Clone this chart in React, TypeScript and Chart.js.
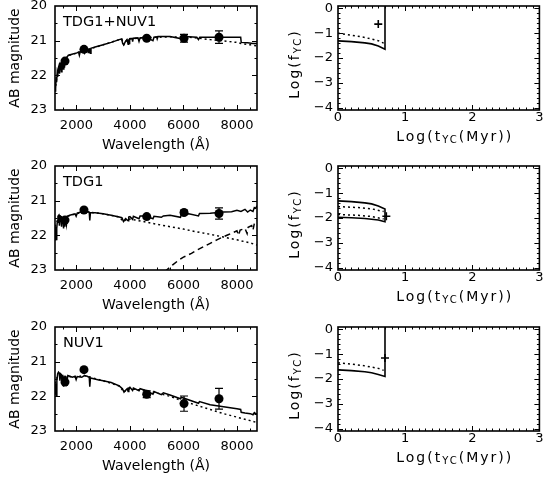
import React, { useEffect, useRef } from 'react';
import { Chart, registerables } from 'chart.js';

Chart.register(...registerables);

const FONT = '"DejaVu Sans", sans-serif';

// ---------------- DATA ----------------
// SED panels: [wavelength (Å), AB magnitude]
const sedA_model: number[][] = [[1200,22.45],[1215,22.2],[1230,22.38],[1245,22.05],[1260,22.2],[1280,21.95],[1300,22.05],[1320,21.8],[1350,21.72],[1370,21.95],[1390,21.66],[1420,21.62],[1440,21.9],[1460,21.6],[1490,21.57],[1510,21.82],[1530,21.55],[1555,21.78],[1575,21.52],[1600,21.5],[1625,21.7],[1650,21.47],[1700,21.42],[1800,21.4],[1900,21.38],[2000,21.36],[2080,21.33],[2110,21.42],[2140,21.32],[2250,21.3],[2300,21.36],[2330,21.28],[2420,21.26],[2440,21.34],[2460,21.25],[2500,21.24],[2520,21.36],[2545,21.22],[2700,21.18],[3000,21.12],[3300,21.05],[3600,20.97],[3690,20.95],[3730,21.08],[3770,21.12],[3830,21.03],[3890,20.97],[3934,21.1],[3950,20.96],[3968,21.08],[3990,20.94],[4080,20.93],[4102,21.03],[4125,20.93],[4300,20.92],[4340,21.02],[4380,20.92],[4600,20.9],[4861,21.0],[4900,20.9],[5000,20.89],[5020,20.95],[5050,20.88],[5500,20.88],[5890,20.94],[5920,20.88],[6200,20.89],[6500,20.9],[6563,20.97],[6610,20.9],[7000,20.9],[7500,20.9],[8000,20.9],[8140,20.9],[8160,21.05],[8400,21.06],[8600,21.08],[8750,21.08]];
const sedA_young: number[][] = [[1200,22.45],[1250,22.15],[1300,21.95],[1400,21.68],[1500,21.57],[1600,21.5],[1700,21.43],[2000,21.36],[2500,21.24],[3000,21.12],[3600,20.97],[3700,20.96],[3770,21.12],[3890,20.97],[4100,20.94],[4600,20.91],[5500,20.89],[6200,20.9],[6500,20.92],[7000,20.97],[7500,21.01],[8000,21.05],[8150,21.08],[8500,21.12],[8750,21.15]];

const sedB_model: number[][] = [[1200,21.75],[1215,22.15],[1230,21.85],[1245,22.12],[1265,21.8],[1285,21.62],[1310,21.45],[1340,21.42],[1365,21.72],[1390,21.44],[1420,21.46],[1445,21.75],[1470,21.48],[1500,21.5],[1520,21.8],[1545,21.5],[1570,21.75],[1595,21.47],[1630,21.68],[1660,21.45],[1750,21.42],[1850,21.4],[1950,21.38],[1990,21.45],[2030,21.36],[2200,21.32],[2300,21.3],[2400,21.32],[2480,21.33],[2500,21.57],[2525,21.34],[2700,21.35],[3000,21.38],[3300,21.42],[3600,21.47],[3700,21.49],[3760,21.6],[3840,21.52],[3934,21.58],[3955,21.47],[4000,21.46],[4100,21.54],[4130,21.45],[4340,21.52],[4380,21.44],[4600,21.44],[4861,21.52],[4900,21.45],[5175,21.48],[5250,21.44],[5500,21.42],[5890,21.48],[5920,21.41],[6200,21.38],[6563,21.44],[6600,21.37],[7000,21.36],[7500,21.33],[7800,21.32],[8000,21.28],[8150,21.31],[8300,21.25],[8400,21.33],[8500,21.27],[8600,21.31],[8650,21.2],[8700,21.22],[8750,21.15]];
const sedB_young: number[][] = [[1200,21.75],[1300,21.55],[1400,21.45],[1500,21.5],[1700,21.44],[2000,21.38],[2300,21.31],[2700,21.35],[3000,21.38],[3600,21.47],[3760,21.6],[3900,21.52],[4200,21.56],[4500,21.6],[5000,21.68],[5500,21.75],[6000,21.82],[6500,21.9],[7000,21.97],[7500,22.05],[8000,22.13],[8500,22.22],[8750,22.28]];
const sedB_old: number[][] = [[5300,23.05],[5600,22.85],[5800,22.73],[6000,22.63],[6300,22.52],[6500,22.43],[6800,22.31],[7000,22.23],[7250,22.13],[7500,22.04],[7650,21.99],[7800,21.94],[8000,21.87],[8060,22.0],[8120,21.85],[8300,21.8],[8380,21.95],[8420,21.77],[8550,21.72],[8600,21.85],[8650,21.66],[8700,21.62],[8750,21.56]];

const sedC_model: number[][] = [[1200,21.63],[1215,21.95],[1230,21.7],[1250,21.98],[1270,21.55],[1300,21.35],[1330,21.3],[1360,21.33],[1385,21.55],[1410,21.35],[1440,21.37],[1465,21.62],[1490,21.38],[1520,21.72],[1545,21.42],[1575,21.68],[1600,21.42],[1640,21.6],[1680,21.4],[1750,21.42],[1850,21.45],[1950,21.42],[1990,21.52],[2030,21.43],[2200,21.45],[2300,21.4],[2400,21.42],[2480,21.45],[2500,21.72],[2525,21.47],[2800,21.52],[3000,21.55],[3300,21.6],[3600,21.7],[3720,21.78],[3780,21.88],[3850,21.82],[3900,21.78],[3934,21.86],[3960,21.76],[4000,21.74],[4100,21.83],[4130,21.76],[4340,21.84],[4380,21.78],[4600,21.83],[4861,21.94],[4900,21.86],[5175,21.95],[5250,21.9],[5500,21.96],[5890,22.07],[5920,22.02],[6000,22.05],[6563,22.2],[6600,22.15],[7000,22.24],[7500,22.3],[8000,22.36],[8140,22.38],[8160,22.46],[8300,22.48],[8500,22.5],[8600,22.53],[8650,22.47],[8700,22.5],[8750,22.5]];
const sedC_young: number[][] = [[1200,21.63],[1300,21.4],[1500,21.42],[2000,21.44],[2300,21.4],[3000,21.55],[3600,21.7],[3780,21.88],[3900,21.78],[4500,21.82],[5000,21.9],[5500,22.0],[6000,22.14],[6500,22.26],[7000,22.38],[7500,22.5],[8000,22.6],[8500,22.7],[8750,22.76]];

// Photometry
const obsWave = [1574, 2283, 4628, 6022, 7330];
const obsA = [21.59, 21.25, 20.93, 20.93, 20.9];
const errA = [0, 0, 0.04, 0.11, 0.18];
const obsB = [21.56, 21.27, 21.46, 21.34, 21.37];
const errB = [0, 0, 0.04, 0.06, 0.16];
const obsC = [21.59, 21.23, 21.94, 22.21, 22.07];
const errC = [0, 0, 0.1, 0.22, 0.3];

// Age / fraction panels: [log t_YC (Myr), log f_YC]
const ageA_solid: number[][] = [[0,-1.31],[0.2,-1.34],[0.4,-1.39],[0.5,-1.43],[0.6,-1.52],[0.7,-1.65],[0.7,0.3]];
const ageA_dot: number[][] = [[0,-1.0],[0.2,-1.08],[0.4,-1.17],[0.6,-1.3],[0.68,-1.4]];
const ageA_best: number[][] = [[0.6,-0.63]];

const ageB_solid: number[][] = [[0,-1.31],[0.2,-1.34],[0.4,-1.39],[0.5,-1.43],[0.6,-1.52],[0.7,-1.64],[0.7,-2.15],[0.6,-2.08],[0.4,-2.02],[0.2,-1.99],[0,-1.97]];
const ageB_dotHi: number[][] = [[0,-1.54],[0.3,-1.58],[0.5,-1.63],[0.68,-1.74]];
const ageB_dotLo: number[][] = [[0,-1.86],[0.3,-1.89],[0.5,-1.94],[0.68,-2.04]];
const ageB_best: number[][] = [[0.72,-1.93]];

const ageC_solid: number[][] = [[0,-1.63],[0.2,-1.66],[0.4,-1.71],[0.5,-1.75],[0.6,-1.82],[0.7,-1.9],[0.7,0.3]];
const ageC_dot: number[][] = [[0,-1.35],[0.2,-1.4],[0.4,-1.47],[0.6,-1.57],[0.68,-1.65]];
const ageC_best: number[][] = [[0.7,-1.15]];

// Ticks
const sedXTicks = [2000, 4000, 6000, 8000];
const sedYTicks = [20, 21, 22, 23];
const ageXTicks = [0, 1, 2, 3];
const ageYTicks = [0, -1, -2, -3, -4];

function steps(a: number, b: number, s: number) {
  const r: number[] = [];
  for (let v = a; v <= b + 1e-9; v += s) r.push(Math.round(v * 1000) / 1000);
  return r;
}
const sedXMinor = steps(1500, 8500, 500);
const sedYMinor = steps(20, 23, 0.5);
const ageXMinor = steps(0, 3, 0.1);
const ageYMinor = steps(-4, 0, 0.2);

// ---------------- PLUGINS ----------------
function makeFramePlugin(xMaj: number[], xMin: number[], yMaj: number[], yMin: number[]) {
  return {
    id: 'frame',
    afterDraw(chart: any) {
      const { ctx, chartArea: a, scales } = chart;
      const xs = scales.x, ys = scales.y;
      ctx.save();
      ctx.strokeStyle = '#000';
      ctx.lineWidth = 1;
      ctx.beginPath();
      const tick = (vals: number[], len: number, horiz: boolean) => {
        for (const v of vals) {
          if (horiz) {
            const p = Math.round(xs.getPixelForValue(v)) + 0.5;
            if (p < a.left + 1 || p > a.right - 1) continue;
            ctx.moveTo(p, a.bottom); ctx.lineTo(p, a.bottom - len);
            ctx.moveTo(p, a.top); ctx.lineTo(p, a.top + len);
          } else {
            const p = Math.round(ys.getPixelForValue(v)) + 0.5;
            if (p < a.top + 1 || p > a.bottom - 1) continue;
            ctx.moveTo(a.left, p); ctx.lineTo(a.left + len, p);
            ctx.moveTo(a.right, p); ctx.lineTo(a.right - len, p);
          }
        }
      };
      tick(xMaj, 5, true); tick(xMin, 2.5, true);
      tick(yMaj, 5, false); tick(yMin, 2.5, false);
      ctx.stroke();
      ctx.lineWidth = 1.6;
      ctx.strokeRect(a.left, a.top, a.right - a.left, a.bottom - a.top);
      ctx.restore();
    },
  };
}

function makeErrPlugin(xs: number[], ys: number[], es: number[]) {
  return {
    id: 'errbars',
    afterDatasetsDraw(chart: any) {
      const { ctx, scales } = chart;
      ctx.save();
      ctx.strokeStyle = '#000';
      ctx.lineWidth = 1.2;
      ctx.beginPath();
      xs.forEach((xv, i) => {
        if (!es[i]) return;
        const px = scales.x.getPixelForValue(xv);
        const p1 = scales.y.getPixelForValue(ys[i] - es[i]);
        const p2 = scales.y.getPixelForValue(ys[i] + es[i]);
        ctx.moveTo(px, p1); ctx.lineTo(px, p2);
        ctx.moveTo(px - 4, p1); ctx.lineTo(px + 4, p1);
        ctx.moveTo(px - 4, p2); ctx.lineTo(px + 4, p2);
      });
      ctx.stroke();
      ctx.restore();
    },
  };
}

type Piece = [string, number, number];
function drawRich(ctx: any, pieces: Piece[], cx: number, cy: number, rot: number) {
  ctx.save();
  ctx.translate(cx, cy);
  ctx.rotate(rot);
  ctx.textBaseline = 'middle';
  ctx.textAlign = 'left';
  try { ctx.letterSpacing = '2px'; } catch (e) { /* ignore */ }
  let total = 0;
  const widths = pieces.map(([t, s]) => {
    ctx.font = `${s}px ${FONT}`;
    const w = ctx.measureText(t).width;
    total += w;
    return w;
  });
  let x = -total / 2;
  pieces.forEach(([t, s, dy], i) => {
    ctx.font = `${s}px ${FONT}`;
    ctx.fillText(t, x, dy);
    x += widths[i];
  });
  ctx.restore();
}

function makeTextPlugin(label: string | null, ageTitles: boolean) {
  return {
    id: 'texts',
    afterDraw(chart: any) {
      const { ctx, chartArea: a } = chart;
      ctx.save();
      ctx.fillStyle = '#000';
      if (label) {
        ctx.font = `14.5px ${FONT}`;
        ctx.textBaseline = 'middle';
        ctx.textAlign = 'left';
        ctx.fillText(label, a.left + 8, a.top + 16);
      }
      if (ageTitles) {
        const midX = (a.left + a.right) / 2;
        const midY = (a.top + a.bottom) / 2;
        drawRich(ctx, [['Log(t', 14, 0], ['YC', 10, 3], ['(Myr))', 14, 0]], midX + 16, a.bottom + 27, 0);
        drawRich(ctx, [['Log(f', 14, 0], ['YC', 10, 3], [')', 14, 0]], 15, midY + 6, -Math.PI / 2);
      }
      ctx.restore();
    },
  };
}

// ---------------- CONFIG ----------------
const line = (pts: number[][], dash: number[] = [], width = 1.5) => ({
  data: pts.map(([x, y]) => ({ x, y })),
  showLine: true,
  pointRadius: 0,
  borderColor: '#000',
  backgroundColor: '#000',
  borderWidth: width,
  borderDash: dash,
  fill: false,
});

const tickFont = { family: FONT, size: 13 };
const titleFont = { family: FONT, size: 14 };
const minus = (v: any) => String(v).replace('-', '\u2212');

function fixFit(size: number, horiz: boolean) {
  return (s: any) => {
    if (horiz) s.height = size; else s.width = size;
    s.paddingLeft = 0; s.paddingRight = 0; s.paddingTop = 0; s.paddingBottom = 0;
  };
}

type Panel = {
  kind: 'sed' | 'age';
  left: number; top: number; w: number; h: number;
  plotLeft: number; plotRight: number;
  datasets: any[];
  label: string | null;
  err?: { xs: number[]; ys: number[]; es: number[] };
};

function buildConfig(p: Panel): any {
  const sed = p.kind === 'sed';
  const xT = sed ? sedXTicks : ageXTicks;
  const yT = sed ? sedYTicks : ageYTicks;
  const plugins: any[] = [
    makeFramePlugin(xT, sed ? sedXMinor : ageXMinor, yT, sed ? sedYMinor : ageYMinor),
    makeTextPlugin(p.label, !sed),
  ];
  if (p.err) plugins.unshift(makeErrPlugin(p.err.xs, p.err.ys, p.err.es));
  return {
    type: 'scatter',
    data: { datasets: p.datasets },
    options: {
      animation: false,
      responsive: false,
      devicePixelRatio: 1,
      events: [],
      layout: { padding: { top: 6, right: p.w - p.plotRight, left: 0, bottom: 0 } },
      plugins: { legend: { display: false }, tooltip: { enabled: false } },
      elements: { line: { tension: 0 } },
      scales: {
        x: {
          type: 'linear',
          min: sed ? 1200 : 0,
          max: sed ? 8750 : 3,
          afterBuildTicks: (s: any) => { s.ticks = xT.map((v) => ({ value: v })); },
          afterFit: fixFit(p.h - 110, true),
          grid: { display: false, drawTicks: false },
          border: { display: false },
          ticks: { font: tickFont, color: '#000', padding: sed ? 8 : 0, maxRotation: 0, autoSkip: false, callback: minus },
          title: sed
            ? { display: true, text: 'Wavelength (Å)', font: titleFont, color: '#000', padding: { top: 0, bottom: 6.6 } }
            : { display: false },
        },
        y: {
          type: 'linear',
          min: sed ? 20 : -4.1,
          max: sed ? 23 : 0.1,
          reverse: sed,
          afterBuildTicks: (s: any) => { s.ticks = yT.map((v) => ({ value: v })); },
          afterFit: fixFit(p.plotLeft, false),
          grid: { display: false, drawTicks: false },
          border: { display: false },
          ticks: { font: tickFont, color: '#000', padding: sed ? 8 : 5, autoSkip: false, callback: minus },
          title: sed
            ? { display: true, text: 'AB magnitude', font: titleFont, color: '#000', padding: { top: 6.6, bottom: 0 } }
            : { display: false },
        },
      },
    },
    plugins,
  };
}

const obsSet = (ys: number[]) => ({
  data: obsWave.map((x, i) => ({ x, y: ys[i] })),
  showLine: false,
  pointRadius: 4.5,
  pointBackgroundColor: '#000',
  pointBorderColor: '#000',
  pointBorderWidth: 0,
});
const bestSet = (pts: number[][]) => ({
  data: pts.map(([x, y]) => ({ x, y })),
  showLine: false,
  pointStyle: 'cross',
  pointRadius: 4,
  pointBorderColor: '#000',
  pointBorderWidth: 1.6,
});

const DOT = [2, 3];
const DASH = [6, 4];
const rowTops = [0, 160, 321];

const panels: Panel[] = [
  { kind: 'sed', left: 0, top: rowTops[0], w: 270, h: 160, plotLeft: 55, plotRight: 257, label: 'TDG1+NUV1',
    datasets: [line(sedA_young, DOT), line(sedA_model), obsSet(obsA)], err: { xs: obsWave, ys: obsA, es: errA } },
  { kind: 'age', left: 280, top: rowTops[0], w: 265, h: 160, plotLeft: 58, plotRight: 261, label: null,
    datasets: [line(ageA_dot, DOT), line(ageA_solid, [], 1.6), bestSet(ageA_best)] },
  { kind: 'sed', left: 0, top: rowTops[1], w: 270, h: 160, plotLeft: 55, plotRight: 257, label: 'TDG1',
    datasets: [line(sedB_young, DOT), line(sedB_old, DASH), line(sedB_model), obsSet(obsB)], err: { xs: obsWave, ys: obsB, es: errB } },
  { kind: 'age', left: 280, top: rowTops[1], w: 265, h: 160, plotLeft: 58, plotRight: 261, label: null,
    datasets: [line(ageB_dotHi, DOT), line(ageB_dotLo, DOT), line(ageB_solid, [], 1.6), bestSet(ageB_best)] },
  { kind: 'sed', left: 0, top: rowTops[2], w: 270, h: 160, plotLeft: 55, plotRight: 257, label: 'NUV1',
    datasets: [line(sedC_young, DOT), line(sedC_model), obsSet(obsC)], err: { xs: obsWave, ys: obsC, es: errC } },
  { kind: 'age', left: 280, top: rowTops[2], w: 265, h: 160, plotLeft: 58, plotRight: 261, label: null,
    datasets: [line(ageC_dot, DOT), line(ageC_solid, [], 1.6), bestSet(ageC_best)] },
];

export default function App() {
  const refs = useRef<(HTMLCanvasElement | null)[]>([]);
  useEffect(() => {
    const charts = panels.map((p, i) => new Chart(refs.current[i] as HTMLCanvasElement, buildConfig(p)));
    return () => charts.forEach((c) => c.destroy());
  }, []);
  return (
    <div style={{ position: 'fixed', left: 0, top: 0, width: 545, height: 478, overflow: 'hidden', background: '#fff' }}>
      {panels.map((p, i) => (
        <canvas
          key={i}
          ref={(el) => { refs.current[i] = el; }}
          width={p.w}
          height={p.h}
          style={{ position: 'absolute', left: p.left, top: p.top, width: p.w, height: p.h }}
        />
      ))}
    </div>
  );
}
